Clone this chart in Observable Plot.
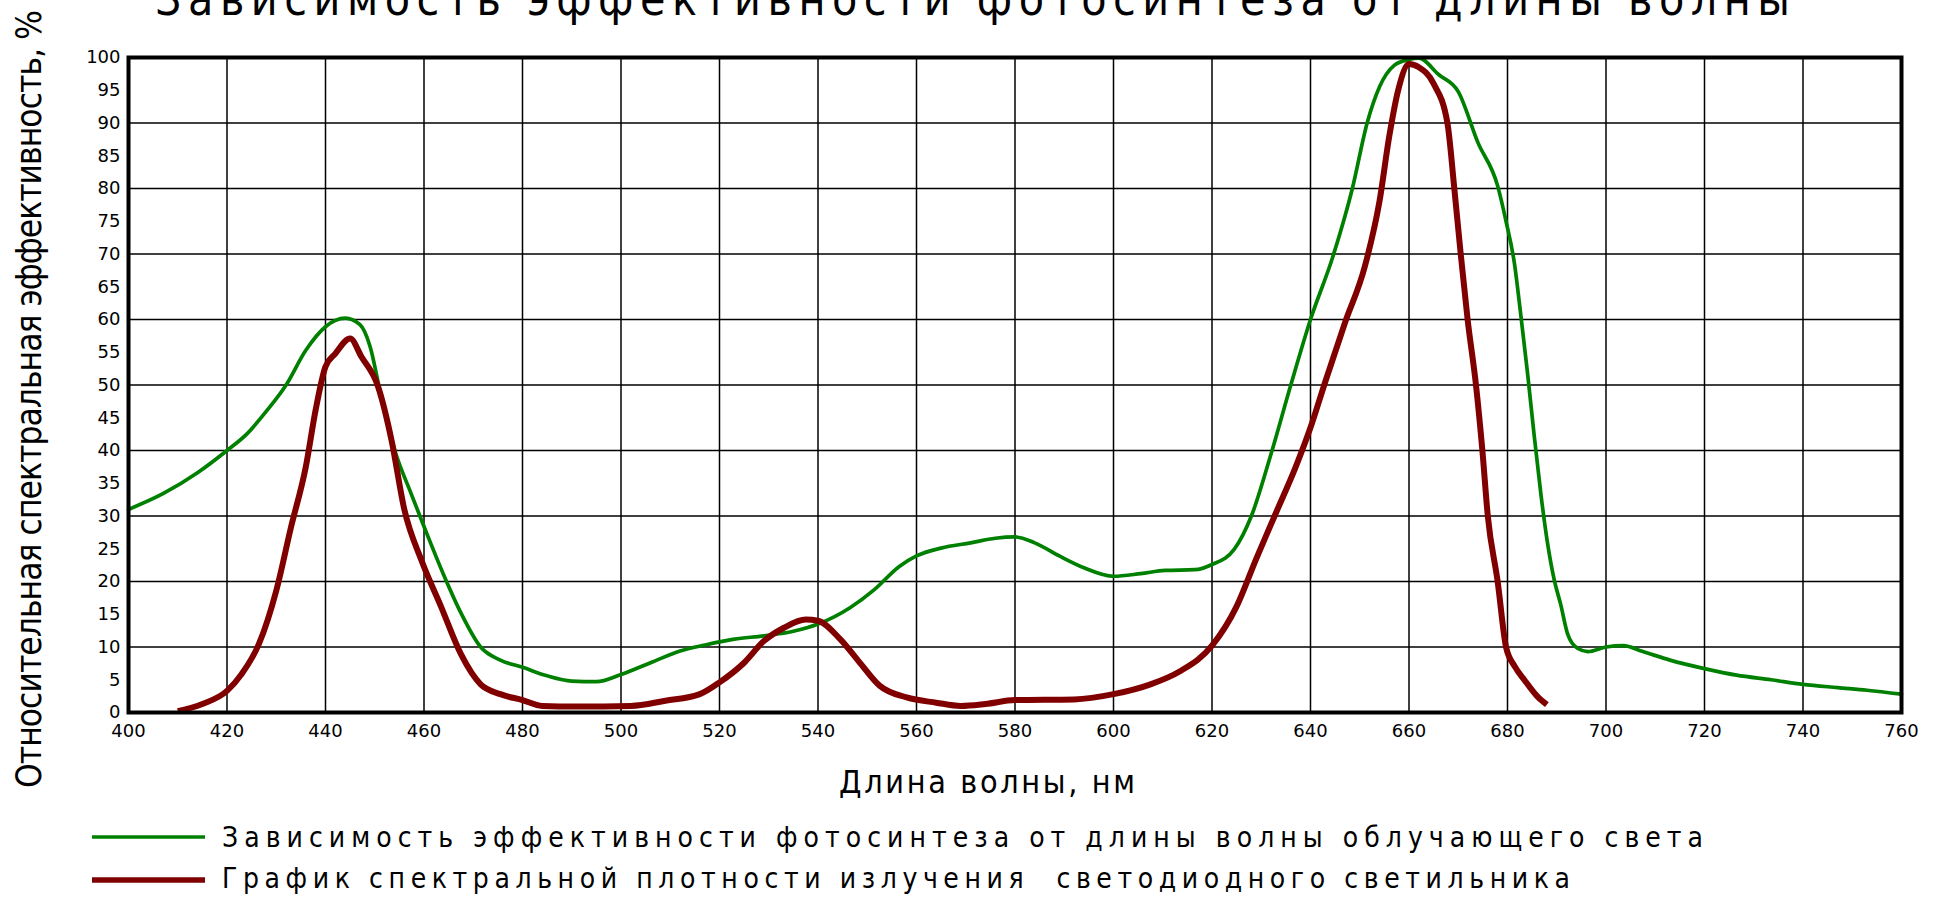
<!DOCTYPE html>
<html><head><meta charset="utf-8">
<script src="https://cdn.jsdelivr.net/npm/d3@7"></script>
<script src="https://cdn.jsdelivr.net/npm/@observablehq/plot@0.6"></script>
<style>
html,body{margin:0;padding:0;background:#fff;width:1935px;height:900px;overflow:hidden}
#chart{position:absolute;left:0;top:0}
#overlay{position:absolute;left:0;top:0;pointer-events:none}
#overlay text{font-family:'Liberation Sans Narrow','DejaVu Sans Condensed','Liberation Sans',sans-serif;fill:#000;white-space:pre}
</style></head><body>
<div id="chart"></div>
<svg id="overlay" width="1935" height="900"></svg>
<script>
// ---- data ----
const titleText = "Зависимость эффективности фотосинтеза от длины волны";
const xLabelText = "Длина волны, нм";
const yLabelText = "Относительная спектральная эффективность, %";
const seriesNames = [
  "Зависимость эффективности фотосинтеза от длины волны облучающего света",
  "График спектральной плотности излучения  светодиодного светильника"
];
const seriesColors = ["#008000", "#800000"];

const xTicks = [400,420,440,460,480,500,520,540,560,580,600,620,640,660,680,700,720,740,760];
const yTicks = [0,5,10,15,20,25,30,35,40,45,50,55,60,65,70,75,80,85,90,95,100];
const xGridLines = [420,440,460,480,500,520,540,560,580,600,620,640,660,680,700,720,740];
const yGridLines = [10,20,30,40,50,60,70,80,90];

// photosynthesis efficiency (green)
const greenWl = [400,407,414,420,424,428,432,436,440,444,447,449,451.5,454,457.5,460,464,467.5,471.5,475.5,480,485,490,495,500,506,512,517,523,529,535,540,546.5,551.5,556.5,560,565,571,576,580,584,589,594,600,605.5,610.5,616.5,620,624.5,628,632,636,640,644.5,648.5,651.5,654,657,660,662,666,670,674,678,679.7,681.4,682.7,684.1,685.4,686.8,688.1,689.5,690.8,692.2,694.2,696.3,700,703.5,707.5,713,720,726.5,733.5,740,747,753,760];
const greenVal = [31,33.4,36.6,40,42.5,46,50,55.3,58.9,60.2,59.2,56,47.5,40.2,33.2,28.4,21,15.2,10,8,6.9,5.6,4.8,4.7,5.8,7.6,9.4,10.3,11.2,11.7,12.4,13.5,16,18.8,22.3,23.9,25.1,25.9,26.6,26.8,25.9,23.9,22.1,20.8,21.2,21.7,21.8,22.6,24.9,30,39.5,50,60,69.5,80,90,95.5,98.8,99.7,99.9,97.4,94.8,87,80.4,75,68.6,60.7,51.6,42.4,33.2,26,20.2,16.5,12,9.8,9.3,10,10.2,9.3,8,6.7,5.7,5,4.3,3.8,3.4,2.8];

// LED spectral density (red)
const redWl = [410,415,420,423,426.5,430,433,436,438,440,442,445,447.3,450.7,453.4,456,459.5,463.5,467.5,471.5,475.5,480,484,491,502,509,516,520,525,529,533,537.5,540,544.5,548.5,552.5,558,564,569,574,580,592,600,607.5,613.5,620,625,629,633,637,640,643,647,651,654,656,657.8,660,662,665,667.8,669.2,670.5,671.9,673.6,674.9,676,678,679.7,681.5,683.4,686,688];
const redVal = [0.2,1.3,3.3,5.9,10.5,18.6,28.3,37.5,46.2,52.8,54.8,57.1,54.3,49.7,41.6,31,23.2,16.1,8.9,4.3,2.8,1.9,1,0.9,1,1.8,2.8,4.6,7.6,10.9,12.9,14.2,14,11.2,7.6,4.1,2.3,1.5,1,1.3,1.9,2,2.8,4.3,6.3,10.2,16.2,23.5,30.5,37.5,43.5,50.5,59.5,68,78,88,95,99,98.5,96,90,80,70,60,50,40,30,20,10,7,5,2.5,1.2];

// ---- chart ----
const green = greenWl.map((x, i) => ({x, y: greenVal[i]}));
const red = redWl.map((x, i) => ({x, y: redVal[i]}));

const chart = Plot.plot({
  width: 1935, height: 900,
  marginLeft: 128, marginRight: 34, marginTop: 57, marginBottom: 188,
  style: {background: "white", color: "black", fontFamily: "'DejaVu Sans', sans-serif", fontSize: "18px", overflow: "visible"},
  x: {domain: [400, 760]},
  y: {domain: [0, 100]},
  marks: [
    Plot.gridX(xGridLines, {stroke: "black", strokeOpacity: 1, strokeWidth: 1.5}),
    Plot.gridY(yGridLines, {stroke: "black", strokeOpacity: 1, strokeWidth: 1.5}),
    Plot.line(green, {x: "x", y: "y", stroke: seriesColors[0], strokeWidth: 3.7, curve: "monotone-x"}),
    Plot.line(red, {x: "x", y: "y", stroke: seriesColors[1], strokeWidth: 6, curve: "monotone-x", strokeLinecap: "butt"}),
    Plot.frame({stroke: "black", strokeWidth: 4}),
    Plot.axisX(xTicks, {tickSize: 0, tickPadding: 12, label: null, fontSize: 18}),
    Plot.axisY(yTicks, {tickSize: 0, tickPadding: 8, label: null, fontSize: 18})
  ]
});
document.getElementById("chart").appendChild(chart);

// ---- texts & legend ----
const ov = d3.select("#overlay");
function label(str, x, y, size, len, rotate) {
  const t = ov.append("text")
    .attr("font-size", size)
    .attr("textLength", len)
    .attr("lengthAdjust", "spacing")
    .text(str);
  if (rotate) {
    t.attr("transform", `translate(${x},${y}) rotate(-90)`).attr("x", 0).attr("y", 0);
  } else {
    t.attr("x", x).attr("y", y);
  }
  return t;
}
label(titleText, 155, 15, 46, 1635);
label(xLabelText, 839, 793, 32, 296);
label(yLabelText, 41, 788, 35, 778, true);

const legendY = [837, 880];
const legendBase = [847, 888];
const legendLen = [1481, 1348];
seriesNames.forEach((name, i) => {
  ov.append("line")
    .attr("x1", 92).attr("x2", 205)
    .attr("y1", legendY[i]).attr("y2", legendY[i])
    .attr("stroke", seriesColors[i])
    .attr("stroke-width", i === 0 ? 3.7 : 5.5);
  label(name, 222, legendBase[i], 28, legendLen[i]);
});
</script>
</body></html>
